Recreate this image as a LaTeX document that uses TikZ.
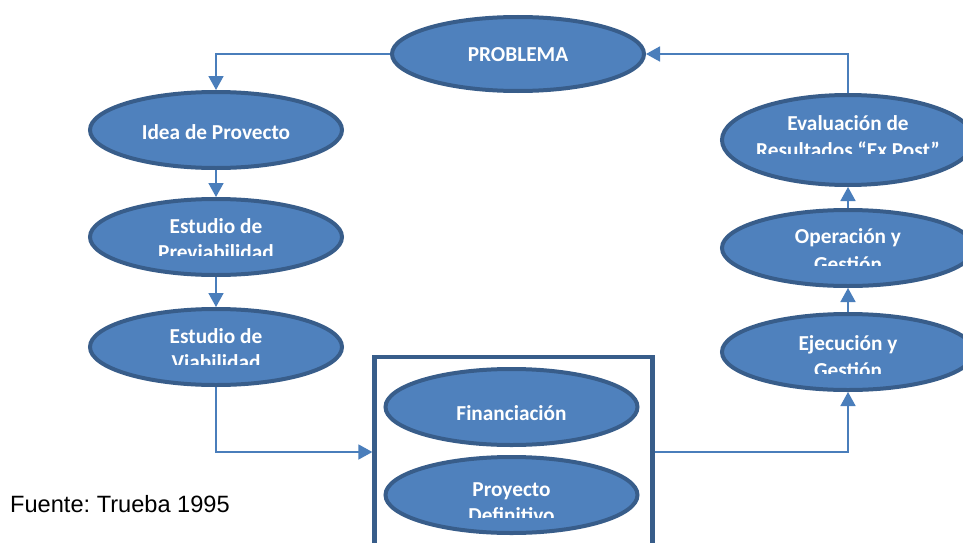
\documentclass[tikz,border=0pt]{standalone}
\usepackage{fontspec}
\setmainfont{Carlito}
\newfontfamily\arialfont{Liberation Sans}
\usetikzlibrary{shapes.geometric,arrows.meta}
\definecolor{fillblue}{HTML}{4F81BD}
\definecolor{edgeblue}{HTML}{385D8A}
\definecolor{linkblue}{HTML}{4A7EBB}
\frenchspacing
\tikzset{
  ell/.style={ellipse, draw=edgeblue, fill=fillblue, line width=4pt, inner sep=0pt,
    minimum width=252pt, minimum height=76pt},
  lab/.style={anchor=base, text=white, inner sep=0pt, font=\fontsize{21.3}{25}\selectfont\bfseries},
  conn/.style={draw=linkblue, line width=1.7pt, -{Triangle[length=14pt,width=15pt]}},
  framebox/.style={rectangle, draw=edgeblue, line width=4.3pt, inner sep=0pt}
}
\newcommand\twolab[7]{%
  \node[lab] (#1a) at (#2,#3) {#6};
  \begin{scope}
    \clip (#2-140,#3) rectangle (#2+140,#5);
    \node[lab] (#1b) at (#2,#4) {#7};
  \end{scope}}
\begin{document}
\begin{tikzpicture}[x=1pt,y=-1pt]
\path[use as bounding box, fill=white] (0,0) rectangle (963,543);

% frame
\node[framebox, minimum width=278pt, minimum height=190pt] (box) at (513.5,452) {};

% ellipses
\node[ell, minimum height=74pt] (prob) at (518,54) {};
\node[ell] (idea) at (216,130) {};
\node[ell] (prev) at (216,237) {};
\node[ell] (viab) at (216,347) {};
\node[ell] (fin) at (511.5,407) {};
\node[ell] (proy) at (511.5,495) {};
\node[ell] (eje) at (848,352) {};
\node[ell] (ope) at (848,248) {};
\node[ell, minimum height=90pt] (eva) at (848,140) {};

% labels
\node[lab] (probt) at (518,62) {PROBLEMA};
\node[lab] (ideat) at (216,139) {Idea de Provecto};
\twolab{prevt}{216}{233}{259}{255}{Estudio de}{Previabilidad}
\twolab{viabt}{216}{343}{369}{364}{Estudio de}{Viabilidad}
\node[lab] (fint) at (511.5,420) {Financiación};
\twolab{proyt}{511.5}{496}{522}{517}{Proyecto}{Definitivo}
\twolab{ejet}{848}{350}{377}{373}{Ejecución y}{Gestión}
\twolab{opet}{848}{243}{271}{265}{Operación y}{Gestión}
\twolab{evat}{848}{130}{157}{153}{Evaluación de}{Resultados “Ex Post”}

% source
\node[anchor=base west, inner sep=0pt, font=\arialfont\fontsize{23.6}{28}\selectfont] (src) at (10,512) {Fuente: Trueba 1995};

% connectors
\draw[conn] (prob.west) -| (idea.north);
\draw[conn] (idea.south) -- (prev.north);
\draw[conn] (prev.south) -- (viab.north);
\draw[conn] (viab.south) |- (box.west);
\draw[conn] (box.east) -| (eje.south);
\draw[conn] (eje.north) -- (ope.south);
\draw[conn] (ope.north) -- (eva.south);
\draw[conn] (eva.north) |- (prob.east);
\end{tikzpicture}
\end{document}
